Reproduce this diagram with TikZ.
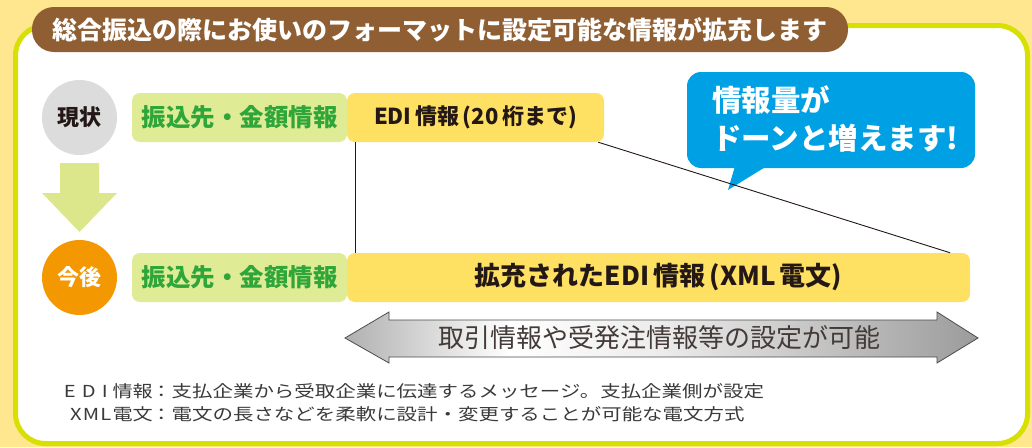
\documentclass[tikz,border=0pt]{standalone}
\usepackage{fontspec}
\setmainfont{Noto Sans CJK JP}
\usetikzlibrary{positioning}
\definecolor{bgyellow}{HTML}{FEE78E}
\definecolor{framegreen}{HTML}{D7E000}
\definecolor{titlebrown}{HTML}{905E33}
\definecolor{circgray}{HTML}{DCDCDD}
\definecolor{circorange}{HTML}{F39800}
\definecolor{lgreen}{HTML}{E0EB95}
\definecolor{arrowgreen}{HTML}{DCE78C}
\definecolor{tgreen}{HTML}{2FA63A}
\definecolor{boxyellow}{HTML}{FEE062}
\definecolor{bubbleblue}{HTML}{00A1E4}
\definecolor{darktext}{HTML}{231815}
\definecolor{notetext}{HTML}{3A3A3A}
\pgfdeclarehorizontalshading{arrowshade}{100bp}{color(0bp)=(gray!62); color(25bp)=(gray!62); color(38bp)=(white); color(50bp)=(gray!15); color(75bp)=(gray!78); color(100bp)=(gray!78)}
\newcommand{\fs}[1]{\fontsize{#1}{#1}\selectfont}
\tikzset{
  stagecirc/.style={circle, minimum size=75pt, inner sep=0pt, font=\fs{22}\bfseries},
  greenbox/.style={rounded corners=8pt, fill=lgreen, minimum width=215pt, minimum height=49pt, inner sep=0pt, text=tgreen, font=\fs{24.5}\bfseries},
  yellowbox/.style={rounded corners=8pt, fill=boxyellow, minimum height=49pt, inner sep=0pt, text=darktext},
  notelabel/.style={anchor=east, inner sep=0pt, text=notetext, font=\fs{16.5}},
  notebody/.style={anchor=west, inner sep=0pt, text=notetext, font=\fs{16.5}},
  thinline/.style={draw=darktext, line width=0.9pt}
}
\begin{document}
\begin{tikzpicture}[x=1pt,y=-1pt]
\useasboundingbox (0,0) rectangle (1032,447);
\fill[bgyellow] (0,0) rectangle (1032,447);
\draw[framegreen, line width=5pt, fill=white, rounded corners=30pt] (15.5,25.5) rectangle (1027.5,443.5);

% title
\node[fill=titlebrown, rounded corners=22pt, minimum width=816pt, minimum height=45pt, inner sep=0pt,
      text=white, font=\fs{25}\bfseries] (title) at (440,29.5) {総合振込の際にお使いのフォーマットに設定可能な情報が拡充します};

% stage circles
\node[stagecirc, fill=circgray, text=darktext] (now) at (79.5,117.5) {現状};
\node[stagecirc, fill=circorange, text=white] (future) at (79.5,277.5) {今後};
\fill[arrowgreen] (60,163) -- (99,163) -- (99,193) -- (117,193) -- (79.5,232) -- (42,193) -- (60,193) -- cycle;

% rows
\node[greenbox] (g1) at (239.5,117.5) {振込先・金額情報};
\node[yellowbox, minimum width=257pt, font=\fs{22}\bfseries] (edi1) at (475.5,117.5) {EDI\,情報\,(20\,桁まで)};
\node[greenbox] (g2) at (239.5,277.5) {振込先・金額情報};
\node[yellowbox, minimum width=623pt, font=\fs{26}\bfseries] (edi2) at (658.5,277.5) {拡充されたEDI\,情報\,(XML\,電文)};

% bubble
\node[fill=bubbleblue, rounded corners=14pt, minimum width=288pt, minimum height=96pt, inner sep=0pt] (bubble) at (831,120) {};
\fill[bubbleblue] (735,166) -- (728,190) -- (767,166) -- cycle;
\node[anchor=west, inner sep=0pt, text=white, font=\fs{29.5}\bfseries, align=left] (btxt1) at (712,100) {情報量が};
\node[anchor=west, inner sep=0pt, text=white, font=\fs{29.5}\bfseries, align=left] (btxt2) at (712,138) {ドーンと増えます!};

% connector lines
\draw[thinline] ([xshift=9pt]edi1.south west) -- ([xshift=9pt]edi2.north west);
\draw[thinline] ([xshift=-6pt]edi1.south east) -- ([xshift=-20pt]edi2.north east);

% double arrow
\path[shading=arrowshade, draw=gray!60!black, line width=0.8pt]
  (345,338) -- (389,312) -- (389,320) -- (937,320) -- (937,312) -- (978,338) -- (937,363) -- (937,357) -- (389,357) -- (389,363) -- cycle;
\node[inner sep=0pt, text=darktext!85, font=\fs{26}] (range) at (659,338) {取引情報や受発注情報等の設定が可能};

% notes
\node[notelabel] (n1l) at (153,391) {\scalebox{1.22}[1]{E\hspace{5pt}D\hspace{5pt}I\hspace{4pt}情報}};
\node[notebody] (n1b) at (151,391) {\scalebox{1.24}[1]{：支払企業から受取企業に伝達するメッセージ。支払企業側が設定}};
\node[notelabel] (n2l) at (153,414) {\scalebox{1.22}[1]{X\hspace{1pt}M\hspace{1pt}L\hspace{1pt}電文}};
\node[notebody] (n2b) at (151,414) {\scalebox{1.24}[1]{：電文の長さなどを柔軟に設計・変更することが可能な電文方式}};
\end{tikzpicture}
\end{document}
